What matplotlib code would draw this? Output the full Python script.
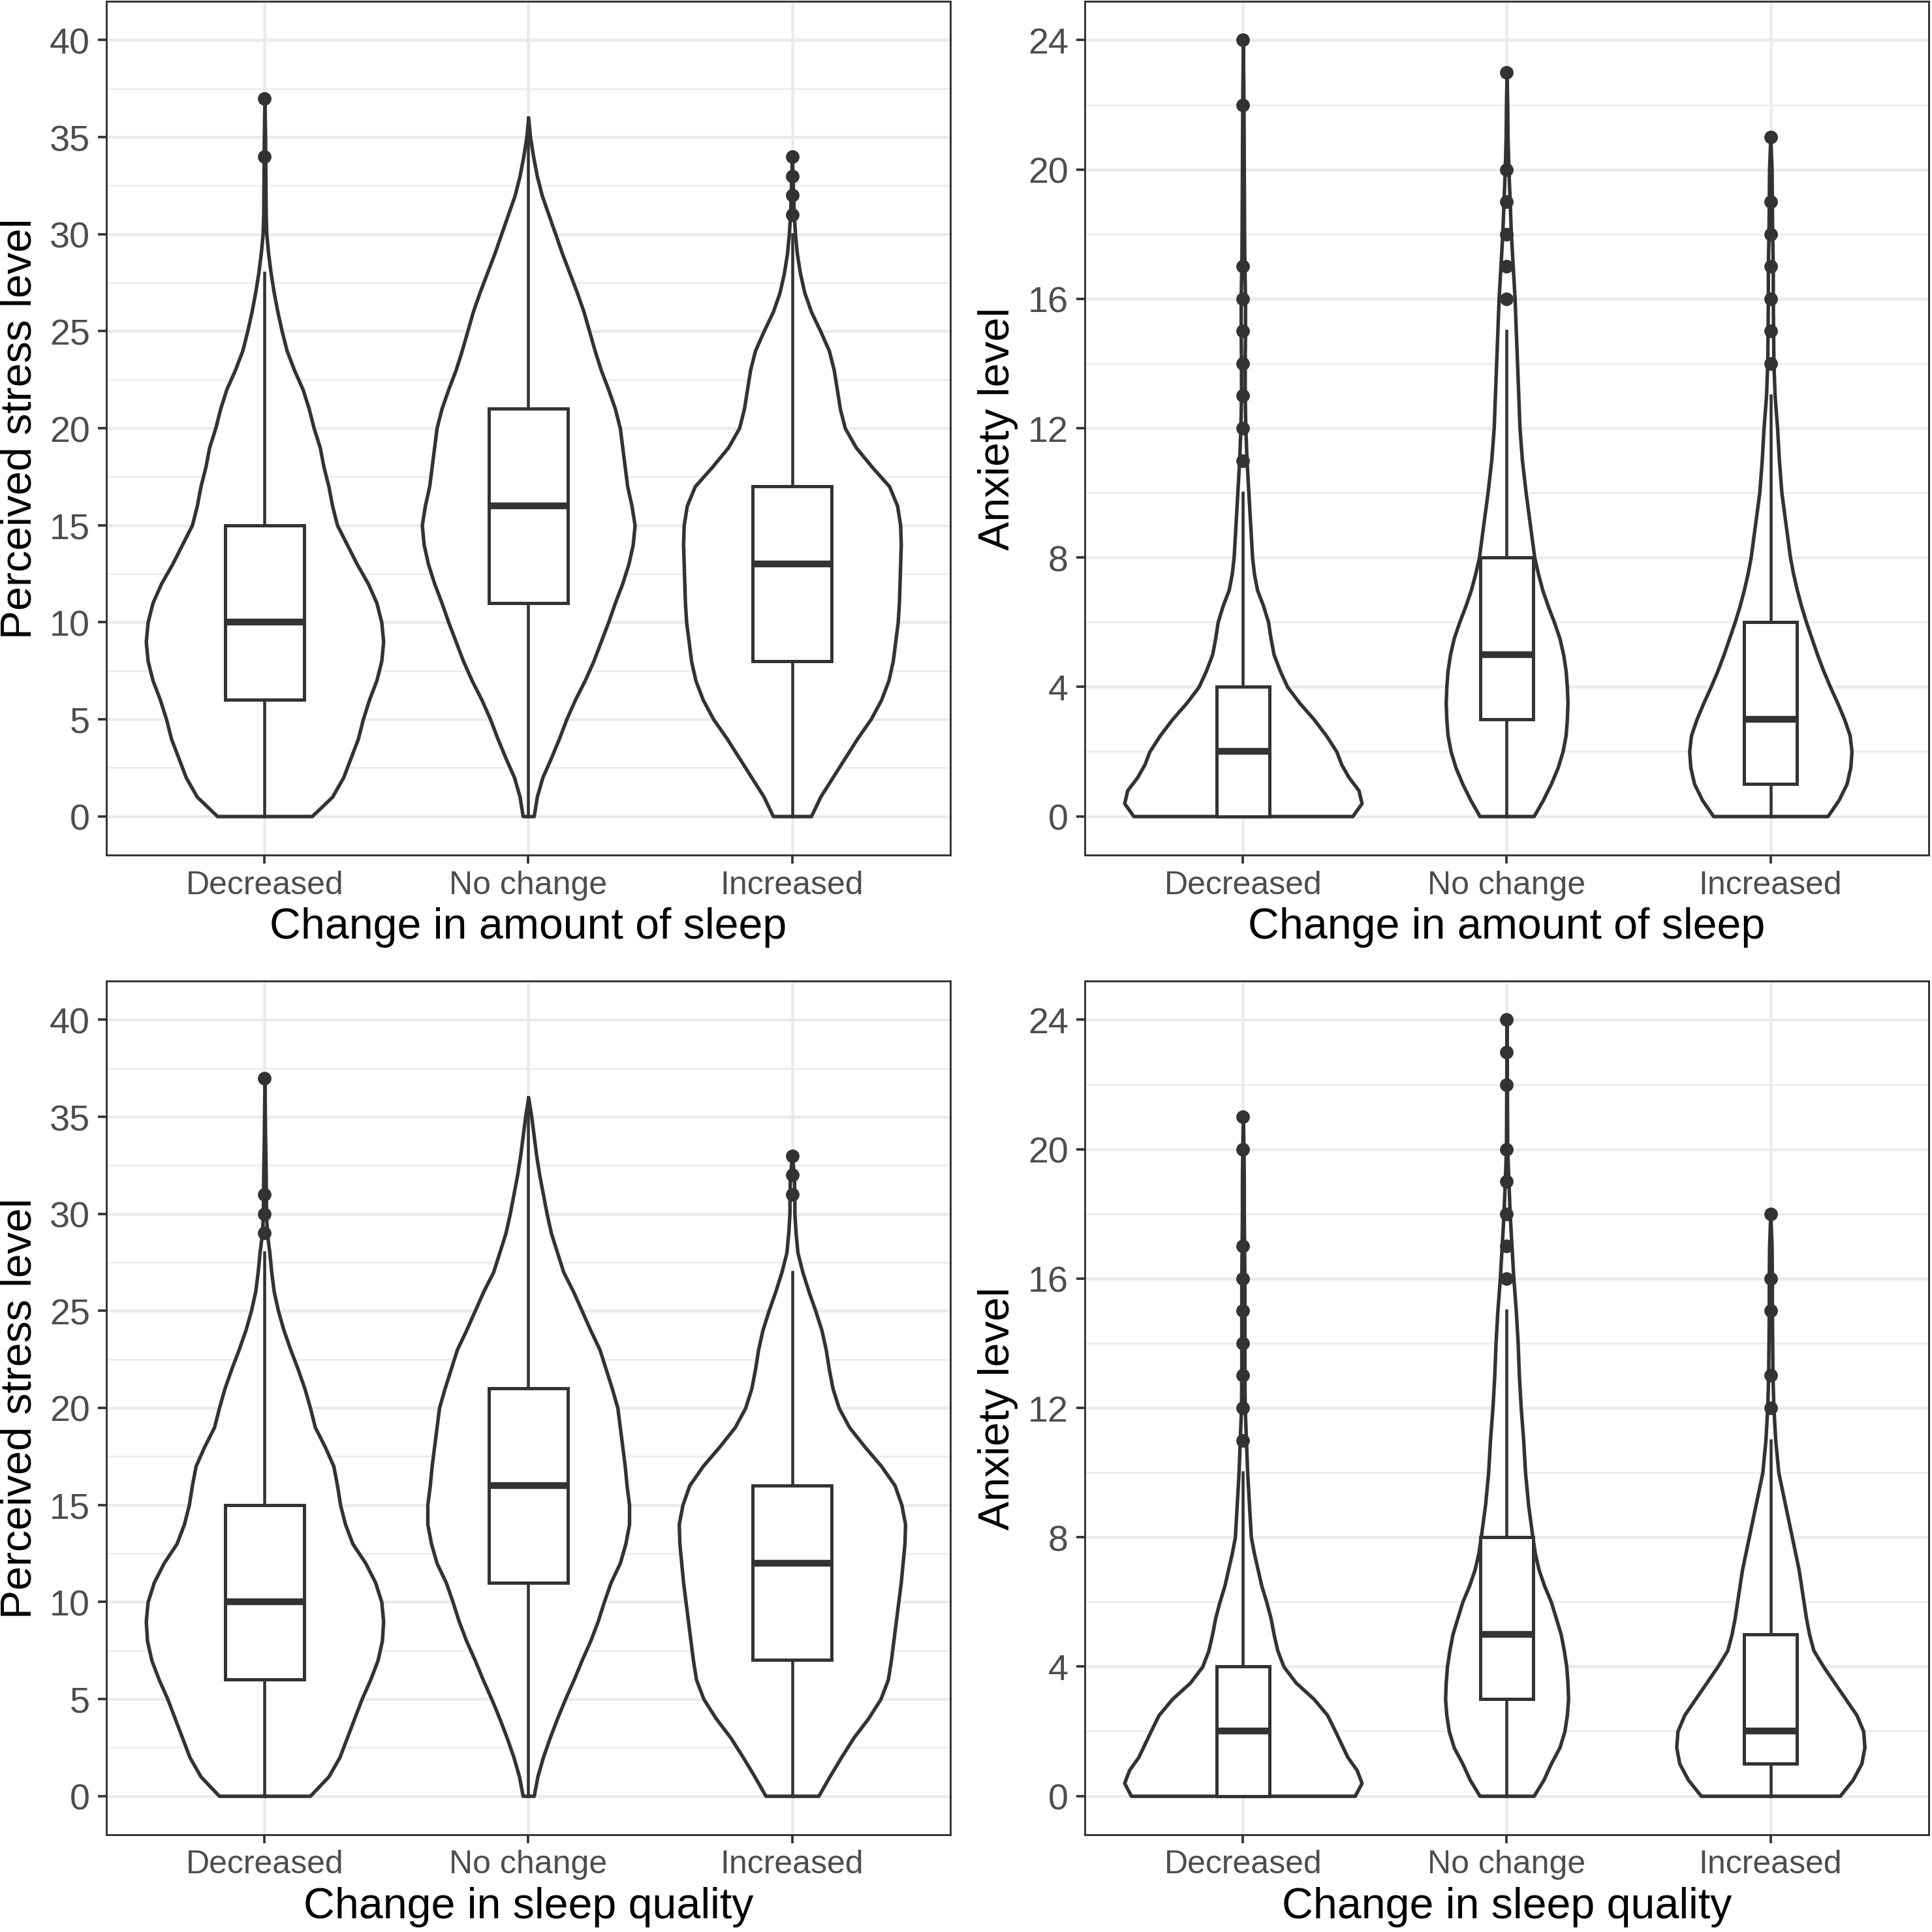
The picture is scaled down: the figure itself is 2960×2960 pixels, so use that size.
import numpy as np
import matplotlib
matplotlib.use("Agg")
import matplotlib.pyplot as plt
from matplotlib.ticker import MultipleLocator

plt.rcParams['font.family'] = ['Liberation Sans', 'DejaVu Sans']

groups = ["Decreased", "No change", "Increased"]

# violin outlines: y value and relative density (half width, arbitrary units)
# stress / amount of sleep
pa_dec_y = [0, 1, 2, 3, 4, 5, 6, 7, 8, 9, 10, 11, 12, 13, 14, 15, 16, 17, 18, 19, 20, 21, 22, 23, 24, 25, 26, 27, 28, 29, 30, 31, 33, 35, 37]
pa_dec_w = [77, 110, 128, 140, 152, 160, 170, 182, 190, 193, 190, 182, 168, 150, 134, 118, 110, 104, 96, 90, 80, 72, 62, 48, 36, 28, 21, 15, 10, 6, 3, 2, 1.5, 1, 0]
pa_nc_y = [0, 1, 2, 3, 4, 5, 6, 7, 8, 9, 10, 11, 12, 13, 14, 15, 16, 17, 18, 19, 20, 21, 22, 23, 24, 25, 26, 27, 28, 29, 30, 31, 32, 33, 34, 35, 36]
pa_nc_w = [9, 14, 23, 37, 50, 62, 76, 92, 106, 118, 130, 141, 153, 163, 170, 173, 168, 161, 157, 153, 149, 141, 130, 118, 108, 99, 90, 79, 67, 55, 44, 33, 22, 14, 8, 3, 0]
pa_inc_y = [0, 1, 2, 3, 4, 5, 6, 7, 8, 9, 10, 11, 12, 13, 14, 15, 16, 17, 18, 19, 20, 21, 22, 23, 24, 25, 26, 27, 28, 29, 30, 31, 32, 33, 34]
pa_inc_w = [31, 46, 66, 86, 106, 128, 145, 157, 164, 168, 172, 174, 175, 176, 177, 176, 171, 158, 130, 104, 86, 78, 73, 68, 60, 46, 31, 20, 13, 8, 5, 3, 2, 1, 0]

# anxiety / amount of sleep
aa_dec_y = [0, 0.4, 0.8, 1.2, 1.6, 2.0, 2.5, 3.0, 3.5, 4.0, 4.5, 5.0, 5.5, 6.0, 6.5, 7.0, 7.5, 8, 9, 10, 11, 12, 13, 14, 15, 16, 17, 18, 20, 22, 24]
aa_dec_w = [178, 193, 188, 172, 160, 152, 135, 115, 92, 72, 60, 50, 45, 41, 33, 23, 18, 15, 12, 9, 6, 4, 3, 3, 3.5, 3.5, 2.5, 2, 1.5, 1, 0]
aa_nc_y = [0, 0.5, 1, 1.5, 2, 2.5, 3, 3.5, 4, 4.5, 5, 5.5, 6, 6.5, 7, 7.5, 8, 9, 10, 11, 12, 13, 14, 15, 16, 17, 18, 19, 20, 21, 22, 23]
aa_nc_w = [44, 59, 72, 83, 91, 96, 98, 99, 98, 96, 92, 86, 77, 67, 58, 51, 45, 38, 31, 25, 21, 19, 17, 15, 13, 10, 7, 5, 3, 1.5, 1, 0]
aa_inc_y = [0, 0.5, 1, 1.5, 2, 2.5, 3, 3.5, 4, 4.5, 5, 5.5, 6, 6.5, 7, 7.5, 8, 9, 10, 11, 12, 13, 14, 15, 16, 17, 18, 19, 20, 21]
aa_inc_w = [93, 111, 124, 130, 132, 129, 120, 109, 97, 86, 76, 67, 58, 50, 43, 37, 32, 25, 18, 14, 11, 7, 5, 4.5, 4, 4, 3, 2.5, 2, 0]

# stress / sleep quality
pq_dec_y = [0, 1, 2, 3, 4, 5, 6, 7, 8, 9, 10, 11, 12, 13, 14, 15, 16, 17, 18, 19, 20, 21, 22, 23, 24, 25, 26, 27, 28, 29, 30, 32, 34, 37]
pq_dec_w = [74, 104, 122, 134, 146, 158, 172, 184, 191, 193, 190, 180, 164, 143, 131, 123, 118, 112, 98, 82, 74, 65, 54, 42, 31, 22, 15, 11, 8, 4, 2.5, 2, 1, 0]
pq_nc_y = [0, 1, 2, 3, 4, 5, 6, 7, 8, 9, 10, 11, 12, 13, 14, 15, 16, 17, 18, 19, 20, 21, 22, 23, 24, 25, 26, 27, 28, 29, 30, 31, 32, 33, 34, 35, 36]
pq_nc_w = [9, 15, 24, 35, 47, 60, 74, 87, 101, 113, 123, 134, 149, 158, 164, 164, 160, 157, 153, 149, 145, 136, 126, 116, 101, 87, 73, 57, 47, 37, 30, 24, 18, 13, 9, 5, 0]
pq_inc_y = [0, 1, 2, 3, 4, 5, 6, 7, 8, 9, 10, 11, 12, 13, 14, 15, 16, 17, 18, 19, 20, 21, 22, 23, 24, 25, 26, 27, 28, 29, 30, 31, 32, 33]
pq_inc_w = [43, 61, 80, 100, 124, 144, 156, 161, 165, 169, 173, 177, 180, 183, 184, 178, 167, 145, 118, 93, 76, 66, 60, 55, 48, 38, 27, 17, 9, 6, 4, 4, 3, 0]

# anxiety / sleep quality
aq_dec_y = [0, 0.4, 0.8, 1.2, 1.6, 2.0, 2.5, 3.0, 3.5, 4.0, 4.5, 5.0, 5.5, 6.0, 6.5, 7.0, 7.5, 8, 9, 10, 11, 12, 13, 14, 15, 16, 17, 18, 19, 20, 21]
aq_dec_w = [182, 193, 185, 170, 160, 150, 137, 115, 86, 66, 56, 50, 45, 38, 30, 24, 18, 13, 10, 7, 5, 3, 2.5, 2.5, 2.5, 2.5, 2, 1.5, 1.5, 1, 0]
aq_nc_y = [0, 0.5, 1, 1.5, 2, 2.5, 3, 3.5, 4, 4.5, 5, 5.5, 6, 6.5, 7, 7.5, 8, 9, 10, 11, 12, 13, 14, 15, 16, 17, 18, 19, 20, 22, 24]
aq_nc_w = [44, 60, 72, 86, 94, 98, 100, 99, 97, 93, 88, 80, 72, 61, 52, 46, 42, 35, 30, 27, 23, 20, 18, 15, 11, 8, 5, 3, 1, 0.5, 0]
aq_inc_y = [0, 0.5, 1, 1.5, 2, 2.5, 3, 3.5, 4, 4.5, 5, 5.5, 6, 7, 8, 9, 10, 11, 12, 13, 14, 15, 16, 17, 18]
aq_inc_w = [113, 134, 148, 153, 151, 140, 122, 104, 86, 70, 63, 58, 54, 46, 35, 24, 13, 8, 5, 3.5, 3, 2.5, 2.5, 2, 0]

# box stats: whisker low, q1, median, q3, whisker high, outliers
pa_box = [(0, 6, 10, 15, 28, [34, 37]),
          (0, 11, 16, 21, 36, []),
          (0, 8, 13, 17, 30, [31, 32, 33, 34])]
aa_box = [(0, 0, 2, 4, 10, [11, 12, 13, 14, 15, 16, 17, 22, 24]),
          (0, 3, 5, 8, 15, [16, 17, 18, 19, 20, 23]),
          (0, 1, 3, 6, 13, [14, 15, 16, 17, 18, 19, 21])]
pq_box = [(0, 6, 10, 15, 28, [29, 30, 31, 37]),
          (0, 11, 16, 21, 36, []),
          (0, 7, 12, 16, 27, [31, 32, 33])]
aq_box = [(0, 0, 2, 4, 10, [11, 12, 13, 14, 15, 16, 17, 20, 21]),
          (0, 3, 5, 8, 15, [16, 17, 18, 19, 20, 22, 23, 24]),
          (0, 1, 2, 5, 11, [12, 13, 15, 16, 18])]

DARK = '#333333'
GRID = '#EBEBEB'


def panel(ax, vy, vw, boxes, box_w, ylim, major, minor, ylabel, xlabel):
    scale = 0.45 / max(max(w) for w in vw)
    for i, (y, w) in enumerate(zip(vy, vw)):
        w = np.array(w) * scale
        ax.fill_betweenx(y, i + 1 - w, i + 1 + w, facecolor='white',
                         edgecolor=DARK, lw=1.3, joinstyle='round', zorder=2)
    stats = []
    for lo, q1, med, q3, hi, out in boxes:
        stats.append(dict(whislo=lo, q1=q1, med=med, q3=q3, whishi=hi, fliers=out))
    ax.bxp(stats, positions=[1, 2, 3], widths=box_w, showcaps=False, patch_artist=True,
           boxprops=dict(facecolor='white', edgecolor=DARK, lw=1.2),
           whiskerprops=dict(color=DARK, lw=1.1),
           medianprops=dict(color=DARK, lw=2.5, solid_capstyle='butt'),
           flierprops=dict(marker='o', markerfacecolor=DARK, markeredgecolor=DARK,
                           markersize=4.0),
           zorder=3)
    ax.set_xlim(0.4, 3.6)
    ax.set_ylim(*ylim)
    ax.set_xticks([1, 2, 3])
    ax.set_xticklabels(groups)
    ax.yaxis.set_major_locator(MultipleLocator(major))
    ax.yaxis.set_minor_locator(MultipleLocator(minor))
    ax.set_axisbelow(True)
    ax.grid(which='major', color=GRID, lw=1.1)
    ax.grid(which='minor', axis='y', color=GRID, lw=0.6)
    ax.tick_params(which='minor', length=0)
    ax.tick_params(which='major', length=3.2, width=0.9, color=DARK, labelcolor='#4D4D4D')
    ax.tick_params(axis='y', labelsize=13.4, pad=2.8)
    ax.tick_params(axis='x', labelsize=12, pad=2.2)
    for s in ax.spines.values():
        s.set_color(DARK)
        s.set_linewidth(0.7)
    ax.set_ylabel(ylabel, fontsize=15.9, labelpad=3.5)
    ax.set_xlabel(xlabel, fontsize=15.9, labelpad=2.5)


fig = plt.figure(figsize=(2961 / 300, 2961 / 300), dpi=300)
W = 1293 / 2961
H = 1308 / 2961
ax1 = fig.add_axes([163 / 2961, 1 - 1311 / 2961, W, H])
ax2 = fig.add_axes([1662 / 2961, 1 - 1311 / 2961, W, H])
ax3 = fig.add_axes([163 / 2961, 1 - 2812 / 2961, W, H])
ax4 = fig.add_axes([1662 / 2961, 1 - 2812 / 2961, W, H])

panel(ax1, [pa_dec_y, pa_nc_y, pa_inc_y], [pa_dec_w, pa_nc_w, pa_inc_w], pa_box, 0.3,
      (-2, 42), 5, 2.5, "Perceived stress level", "Change in amount of sleep")
panel(ax2, [aa_dec_y, aa_nc_y, aa_inc_y], [aa_dec_w, aa_nc_w, aa_inc_w], aa_box, 0.2,
      (-1.2, 25.2), 4, 2, "Anxiety level", "Change in amount of sleep")
panel(ax3, [pq_dec_y, pq_nc_y, pq_inc_y], [pq_dec_w, pq_nc_w, pq_inc_w], pq_box, 0.3,
      (-2, 42), 5, 2.5, "Perceived stress level", "Change in sleep quality")
panel(ax4, [aq_dec_y, aq_nc_y, aq_inc_y], [aq_dec_w, aq_nc_w, aq_inc_w], aq_box, 0.2,
      (-1.2, 25.2), 4, 2, "Anxiety level", "Change in sleep quality")

fig.savefig("out.png", dpi=300, facecolor='white')
